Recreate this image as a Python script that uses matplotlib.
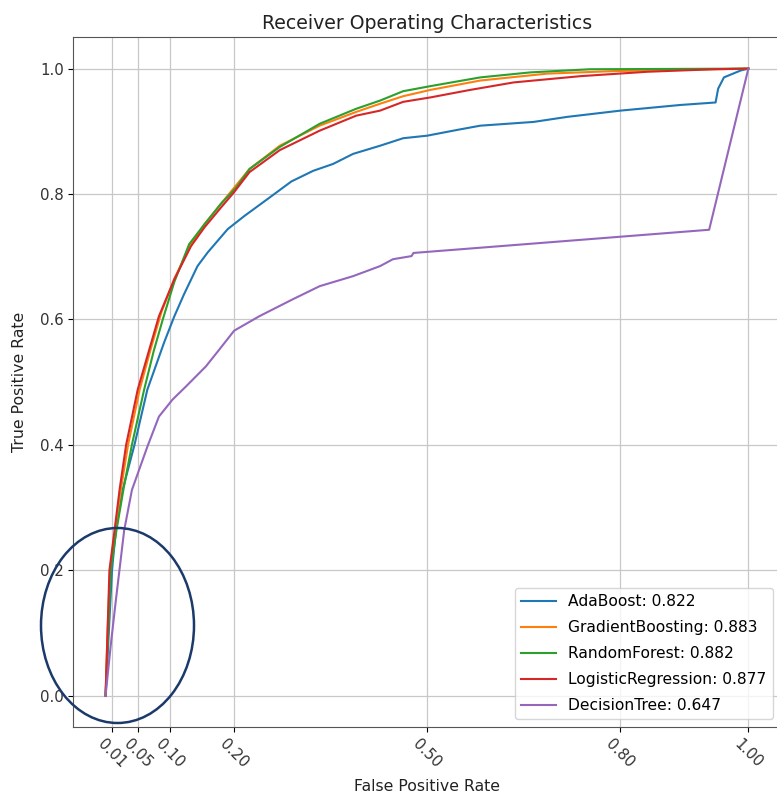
import matplotlib
matplotlib.use("Agg")
import matplotlib.pyplot as plt
from matplotlib.patches import Ellipse

# ---- data ----
ada_fpr = [0, 0.005, 0.01, 0.016, 0.027, 0.045, 0.065, 0.091, 0.107, 0.122, 0.143, 0.159, 0.19, 0.216,
           0.252, 0.289, 0.323, 0.354, 0.385, 0.427, 0.463, 0.5, 0.551, 0.583, 0.666, 0.718, 0.801,
           0.894, 0.949, 0.953, 0.962, 0.988, 1.0]
ada_tpr = [0, 0.1, 0.2, 0.264, 0.33, 0.4, 0.488, 0.563, 0.605, 0.64, 0.685, 0.707, 0.744, 0.765,
           0.792, 0.82, 0.837, 0.848, 0.864, 0.877, 0.889, 0.893, 0.903, 0.909, 0.915, 0.923, 0.933,
           0.942, 0.946, 0.968, 0.986, 0.997, 1.0]

gb_fpr = [0, 0.003, 0.007, 0.015, 0.024, 0.035, 0.053, 0.07, 0.087, 0.107, 0.133, 0.154, 0.18, 0.2,
          0.224, 0.271, 0.333, 0.39, 0.427, 0.463, 0.505, 0.583, 0.687, 0.79, 0.894, 1.0]
gb_tpr = [0, 0.1, 0.2, 0.264, 0.33, 0.4, 0.488, 0.552, 0.612, 0.665, 0.72, 0.752, 0.785, 0.81,
          0.84, 0.877, 0.909, 0.931, 0.944, 0.956, 0.966, 0.981, 0.992, 0.996, 0.998, 1.0]

rf_fpr = [0, 0.004, 0.008, 0.017, 0.028, 0.041, 0.06, 0.075, 0.089, 0.107, 0.13, 0.154, 0.18, 0.203,
          0.224, 0.271, 0.333, 0.39, 0.427, 0.463, 0.505, 0.583, 0.661, 0.754, 1.0]
rf_tpr = [0, 0.1, 0.2, 0.264, 0.33, 0.4, 0.488, 0.55, 0.6, 0.66, 0.72, 0.752, 0.785, 0.81,
          0.84, 0.875, 0.912, 0.936, 0.949, 0.964, 0.972, 0.986, 0.994, 0.999, 1.0]

lr_fpr = [0, 0.003, 0.006, 0.014, 0.022, 0.032, 0.05, 0.068, 0.083, 0.107, 0.133, 0.154, 0.18, 0.2,
          0.224, 0.271, 0.333, 0.39, 0.427, 0.463, 0.505, 0.567, 0.635, 0.739, 0.843, 0.947, 1.0]
lr_tpr = [0, 0.1, 0.2, 0.264, 0.33, 0.4, 0.488, 0.552, 0.605, 0.664, 0.717, 0.747, 0.779, 0.803,
          0.835, 0.87, 0.901, 0.925, 0.933, 0.947, 0.954, 0.966, 0.978, 0.988, 0.995, 0.999, 1.0]

dt_fpr = [0, 0.008, 0.016, 0.029, 0.041, 0.065, 0.083, 0.104, 0.125, 0.156, 0.177, 0.2, 0.239, 0.291,
          0.333, 0.385, 0.427, 0.447, 0.476, 0.479, 0.939, 1.0]
dt_tpr = [0, 0.08, 0.152, 0.264, 0.328, 0.397, 0.445, 0.472, 0.493, 0.525, 0.552, 0.582, 0.605, 0.632,
          0.653, 0.669, 0.685, 0.696, 0.701, 0.706, 0.743, 1.0]

model_names = ["AdaBoost", "GradientBoosting", "RandomForest", "LogisticRegression", "DecisionTree"]
model_auc = [0.822, 0.883, 0.882, 0.877, 0.647]
x_ticks = [0.01, 0.05, 0.10, 0.20, 0.50, 0.80, 1.00]
x_tick_labels = ["0.01", "0.05", "0.10", "0.20", "0.50", "0.80", "1.00"]

curves = [(ada_fpr, ada_tpr), (gb_fpr, gb_tpr), (rf_fpr, rf_tpr), (lr_fpr, lr_tpr), (dt_fpr, dt_tpr)]

fig = plt.figure(figsize=(7.77, 7.98), dpi=100)
ax = fig.add_axes([0.0945, 0.089, 0.910, 0.8643])

for (f, t), name, auc in zip(curves, model_names, model_auc):
    ax.plot(f, t, lw=1.5, label=f"{name}: {auc:.3f}")

ax.set_xlim(-0.05, 1.05)
ax.set_ylim(-0.05, 1.05)
ax.set_xticks(x_ticks)
ax.set_xticklabels(x_tick_labels, rotation=-45, fontsize=10.8, color="#333333")
ax.tick_params(axis="y", labelsize=10.8, labelcolor="#333333")
ax.grid(True, color="#c8c8c8", lw=0.9)
for s in ax.spines.values():
    s.set_color("#555555")
ax.set_title("Receiver Operating Characteristics", fontsize=13.6, color="#222222")
ax.set_xlabel("False Positive Rate", fontsize=11.3, labelpad=6, color="#222222")
ax.set_ylabel("True Positive Rate", fontsize=11.3, labelpad=9, color="#222222")
ax.legend(loc="lower right", fontsize=11.2, labelspacing=0.7, handlelength=2.2)

ell = Ellipse((117.5 / 777, 1 - 625.5 / 798), 153 / 777, 195 / 798,
              transform=fig.transFigure, fill=False, edgecolor="#1b3a6b", lw=1.8, zorder=10)
fig.add_artist(ell)

fig.savefig("out.png", dpi=100)
